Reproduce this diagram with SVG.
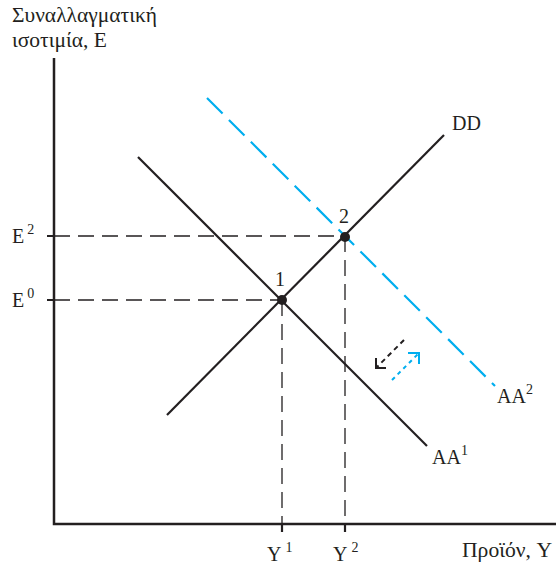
<svg xmlns="http://www.w3.org/2000/svg" width="560" height="565" viewBox="0 0 560 565">
<style>
text{font-family:"Liberation Serif","Times New Roman",serif;font-size:20px;fill:#231f20}
.sup{font-size:14px}
.ax{stroke:#231f20;stroke-width:2.5;fill:none}
.ln{stroke:#231f20;stroke-width:2.2;fill:none}
.guide{stroke:#231f20;stroke-width:1.3;stroke-dasharray:16 8;fill:none}
.blue{stroke:#00aeef;stroke-width:2.2;stroke-dasharray:22 9;fill:none}
</style>
<rect width="560" height="565" fill="#fff"/>
<g id="axes">
<path class="ax" d="M54,58 V524 H556"/>
<path class="ln" d="M47,236 H54 M47,300 H54 M282,524 V532 M345,524 V532" stroke-width="1.3"/>
<text x="12" y="22" textLength="145" lengthAdjust="spacingAndGlyphs">Συναλλαγματική</text>
<text x="12" y="47" textLength="95" lengthAdjust="spacingAndGlyphs">ισοτιμία, E</text>
<text x="462" y="557" textLength="90" lengthAdjust="spacingAndGlyphs">Προϊόν, Y</text>
</g>
<g id="connectors">
<path class="guide" d="M54,236 H345 M54,300 H282 M282,300 V524 M345,236 V524"/>
<path class="blue" d="M207,98 L495,386"/>
<path class="ln" d="M167,415 L444,135"/>
<path class="ln" d="M138,157 L427,446"/>
<path d="M404,340 L377,367" stroke="#231f20" stroke-width="2" stroke-dasharray="5 4" fill="none"/>
<path d="M376,358 V368 H386" stroke="#231f20" stroke-width="2" fill="none"/>
<path d="M392,380 L418,354" stroke="#00aeef" stroke-width="2" stroke-dasharray="4 4" fill="none"/>
<path d="M408,353 H419 V364" stroke="#00aeef" stroke-width="2" fill="none"/>
</g>
<g id="DD"><text x="452" y="130">DD</text></g>
<g id="AA1"><text x="432" y="464">AA<tspan class="sup" dy="-9">1</tspan></text></g>
<g id="AA2"><text x="497" y="403">AA<tspan class="sup" dy="-9">2</tspan></text></g>
<g id="point1"><circle cx="282" cy="300" r="5" fill="#231f20"/><text x="275" y="286">1</text></g>
<g id="point2"><circle cx="345" cy="237" r="5" fill="#231f20"/><text x="339" y="223">2</text></g>
<g id="E2"><text x="12" y="243">E<tspan class="sup" dx="3" dy="-9">2</tspan></text></g>
<g id="E0"><text x="12" y="307">E<tspan class="sup" dx="3" dy="-9">0</tspan></text></g>
<g id="Y1"><text x="267" y="561">Y<tspan class="sup" dx="4" dy="-9">1</tspan></text></g>
<g id="Y2"><text x="333" y="561">Y<tspan class="sup" dx="4" dy="-9">2</tspan></text></g>
</svg>
